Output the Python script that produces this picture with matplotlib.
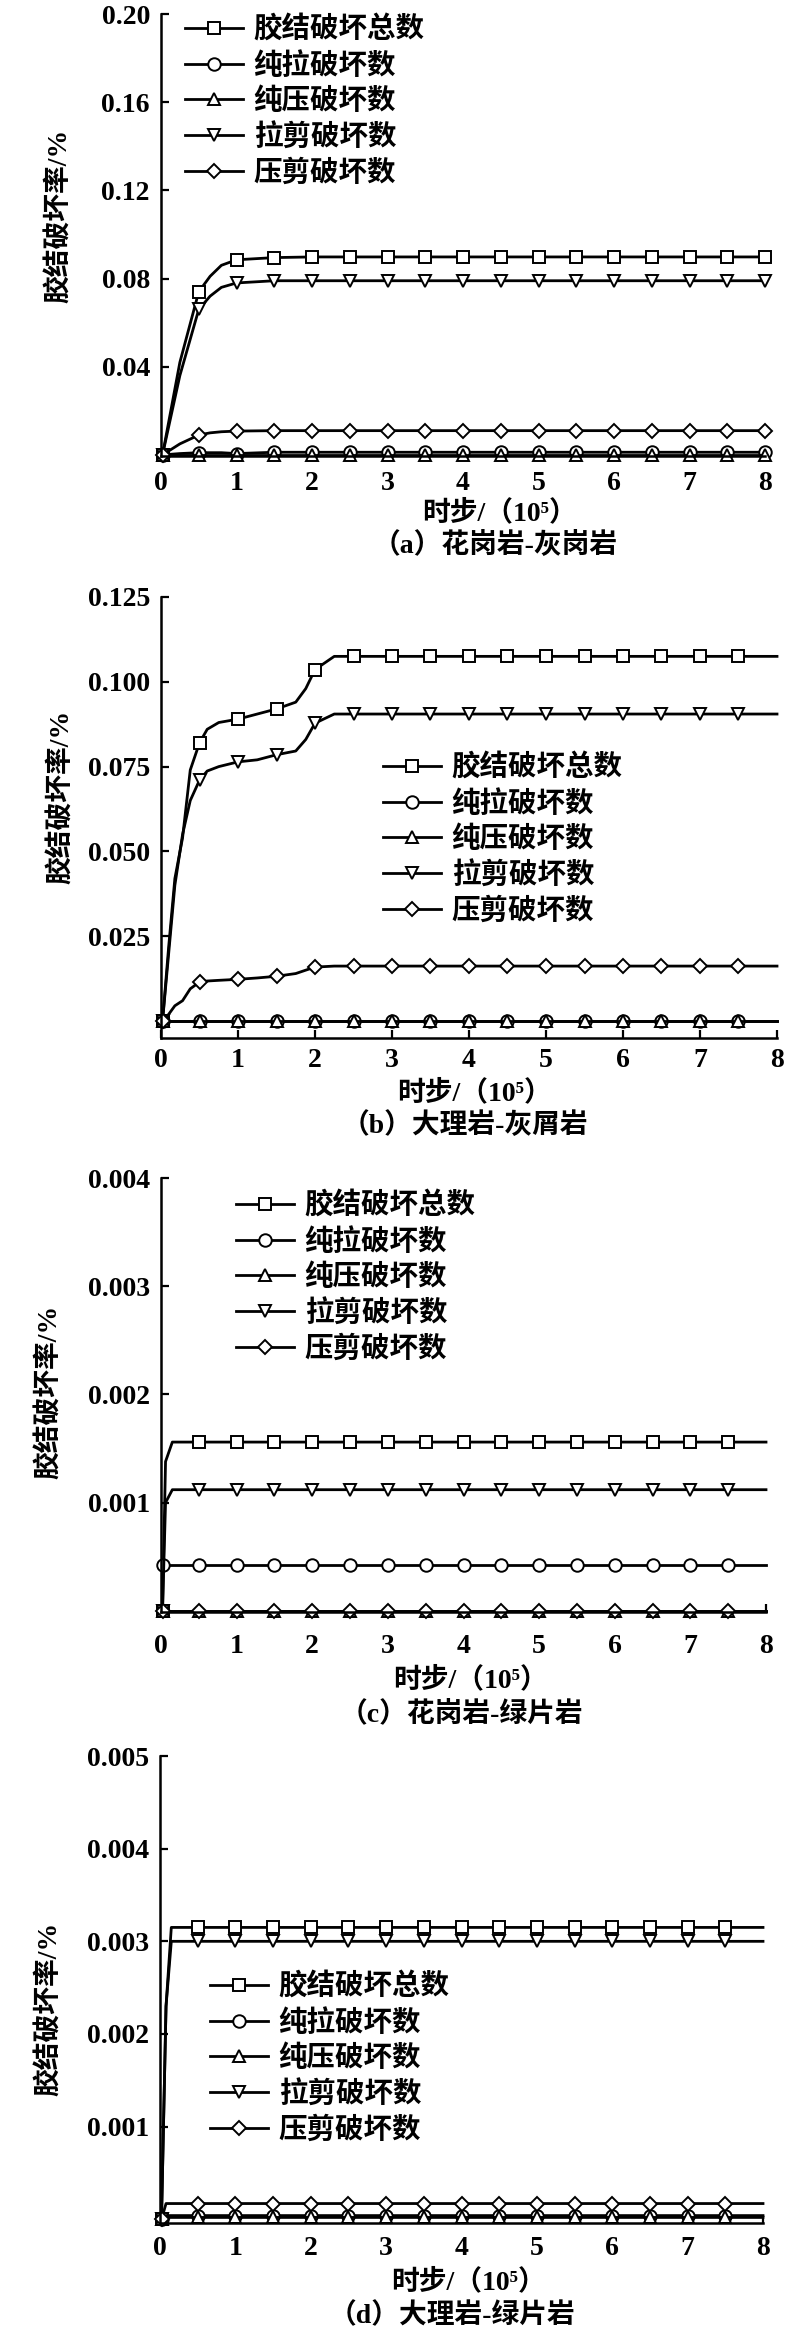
import numpy as np
import matplotlib
matplotlib.use("Agg")
import matplotlib.pyplot as plt

plt.rcParams['font.family'] = ['Liberation Serif', 'Noto Sans CJK SC', 'DejaVu Sans']
plt.rcParams['font.weight'] = 'bold'
plt.rcParams['axes.labelweight'] = 'bold'
plt.rcParams['axes.unicode_minus'] = False

# ---------------- data ----------------
series_labels = ["胶结破坏总数", "纯拉破坏数", "纯压破坏数", "拉剪破坏数", "压剪破坏数"]
series_markers = ["s", "o", "^", "v", "D"]

x_ticks = [0, 1, 2, 3, 4, 5, 6, 7, 8]
ylabel_text = "胶结破坏率/%"
xlabel_text = "时步/（10⁵）"

# (a) 花岗岩-灰岗岩
cap_a = "（a）花岗岩-灰岗岩"
x_a = [0.02, 0.25, 0.5, 0.65, 0.8, 1.0, 1.5, 2.0, 2.5, 3.0, 3.5, 4.0, 4.5, 5.0, 5.5, 6.0, 6.5, 7.0, 7.5, 8.0]
total_a = [0, 0.042, 0.074, 0.081, 0.086, 0.0885, 0.0895, 0.0898, 0.0898, 0.0898, 0.0898, 0.0898, 0.0898,
           0.0898, 0.0898, 0.0898, 0.0898, 0.0898, 0.0898, 0.0898]
tension_a = [0, 0.0006, 0.0010, 0.0010, 0.0010, 0.0006, 0.0012, 0.0012, 0.0012, 0.0012, 0.0012, 0.0012, 0.0012,
             0.0012, 0.0012, 0.0012, 0.0012, 0.0012, 0.0012, 0.0012]
compress_a = [0, 0, 0, 0, 0, 0, 0, 0, 0, 0, 0, 0, 0, 0, 0, 0, 0, 0, 0, 0]
tshear_a = [0, 0.036, 0.066, 0.072, 0.076, 0.078, 0.079, 0.079, 0.079, 0.079, 0.079, 0.079, 0.079,
            0.079, 0.079, 0.079, 0.079, 0.079, 0.079, 0.079]
cshear_a = [0, 0.005, 0.009, 0.0100, 0.0105, 0.0108, 0.011, 0.011, 0.011, 0.011, 0.011, 0.011, 0.011,
            0.011, 0.011, 0.011, 0.011, 0.011, 0.011, 0.011]
marks_a = [0.02, 0.5, 1.0, 1.5, 2.0, 2.5, 3.0, 3.5, 4.0, 4.5, 5.0, 5.5, 6.0, 6.5, 7.0, 7.5, 8.0]
yticks_a = [0.04, 0.08, 0.12, 0.16, 0.20]
yticklabels_a = ["0.04", "0.08", "0.12", "0.16", "0.20"]

# (b) 大理岩-灰屑岩
cap_b = "（b）大理岩-灰屑岩"
x_b = [0.02, 0.1, 0.18, 0.28, 0.38, 0.5, 0.6, 0.75, 1.0, 1.25, 1.5, 1.75, 1.88, 2.0, 2.25, 2.5, 3.0, 3.5,
       4.0, 4.5, 5.0, 5.5, 6.0, 6.5, 7.0, 7.5, 8.0]
total_b = [0, 0.022, 0.042, 0.054, 0.074, 0.082, 0.086, 0.088, 0.089, 0.0905, 0.092, 0.094, 0.098, 0.1036,
           0.1075, 0.1075, 0.1075, 0.1075, 0.1075, 0.1075, 0.1075, 0.1075, 0.1075, 0.1075, 0.1075, 0.1075, 0.1075]
tension_b = [0] * 27
compress_b = [0] * 27
tshear_b = [0, 0.020, 0.040, 0.055, 0.065, 0.071, 0.0737, 0.075, 0.0764, 0.077, 0.0785, 0.0796, 0.083, 0.0878,
            0.0905, 0.0905, 0.0905, 0.0905, 0.0905, 0.0905, 0.0905, 0.0905, 0.0905, 0.0905, 0.0905, 0.0905, 0.0905]
cshear_b = [0, 0.002, 0.0045, 0.006, 0.0095, 0.0115, 0.0118, 0.012, 0.0123, 0.0127, 0.0132, 0.014, 0.015, 0.0159,
            0.0162, 0.0162, 0.0162, 0.0162, 0.0162, 0.0162, 0.0162, 0.0162, 0.0162, 0.0162, 0.0162, 0.0162, 0.0162]
marks_b = [0.02, 0.5, 1.0, 1.5, 2.0, 2.5, 3.0, 3.5, 4.0, 4.5, 5.0, 5.5, 6.0, 6.5, 7.0, 7.5]
yticks_b = [0.025, 0.050, 0.075, 0.100, 0.125]
yticklabels_b = ["0.025", "0.050", "0.075", "0.100", "0.125"]

# (c) 花岗岩-绿片岩
cap_c = "（c）花岗岩-绿片岩"
x_c = [0.02, 0.06, 0.15, 0.5, 1.0, 1.5, 2.0, 2.5, 3.0, 3.5, 4.0, 4.5, 5.0, 5.5, 6.0, 6.5, 7.0, 7.5, 8.0]
total_c = [0, 0.00138, 0.00156, 0.00156, 0.00156, 0.00156, 0.00156, 0.00156, 0.00156, 0.00156, 0.00156,
           0.00156, 0.00156, 0.00156, 0.00156, 0.00156, 0.00156, 0.00156, 0.00156]
tension_c = [0.00042, 0.00042, 0.00042, 0.00042, 0.00042, 0.00042, 0.00042, 0.00042, 0.00042, 0.00042,
             0.00042, 0.00042, 0.00042, 0.00042, 0.00042, 0.00042, 0.00042, 0.00042, 0.00042]
compress_c = [0] * 19
tshear_c = [0, 0.00100, 0.00112, 0.00112, 0.00112, 0.00112, 0.00112, 0.00112, 0.00112, 0.00112, 0.00112,
            0.00112, 0.00112, 0.00112, 0.00112, 0.00112, 0.00112, 0.00112, 0.00112]
cshear_c = [0] * 19
marks_c = [0.02, 0.5, 1.0, 1.5, 2.0, 2.5, 3.0, 3.5, 4.0, 4.5, 5.0, 5.5, 6.0, 6.5, 7.0, 7.5]
yticks_c = [0.001, 0.002, 0.003, 0.004]
yticklabels_c = ["0.001", "0.002", "0.003", "0.004"]

# (d) 大理岩-绿片岩
cap_d = "（d）大理岩-绿片岩"
x_d = [0.02, 0.08, 0.15, 0.5, 1.0, 1.5, 2.0, 2.5, 3.0, 3.5, 4.0, 4.5, 5.0, 5.5, 6.0, 6.5, 7.0, 7.5, 8.0]
total_d = [0, 0.0023, 0.00315, 0.00315, 0.00315, 0.00315, 0.00315, 0.00315, 0.00315, 0.00315, 0.00315,
           0.00315, 0.00315, 0.00315, 0.00315, 0.00315, 0.00315, 0.00315, 0.00315]
tension_d = [0, 0.00004, 0.00004, 0.00004, 0.00004, 0.00004, 0.00004, 0.00004, 0.00004, 0.00004, 0.00004,
             0.00004, 0.00004, 0.00004, 0.00004, 0.00004, 0.00004, 0.00004, 0.00004]
compress_d = [0, 0.00002, 0.00002, 0.00002, 0.00002, 0.00002, 0.00002, 0.00002, 0.00002, 0.00002, 0.00002,
              0.00002, 0.00002, 0.00002, 0.00002, 0.00002, 0.00002, 0.00002, 0.00002]
tshear_d = [0, 0.0023, 0.0030, 0.0030, 0.0030, 0.0030, 0.0030, 0.0030, 0.0030, 0.0030, 0.0030,
            0.0030, 0.0030, 0.0030, 0.0030, 0.0030, 0.0030, 0.0030, 0.0030]
cshear_d = [0, 0.00017, 0.00017, 0.00017, 0.00017, 0.00017, 0.00017, 0.00017, 0.00017, 0.00017, 0.00017,
            0.00017, 0.00017, 0.00017, 0.00017, 0.00017, 0.00017, 0.00017, 0.00017]
marks_d = [0.02, 0.5, 1.0, 1.5, 2.0, 2.5, 3.0, 3.5, 4.0, 4.5, 5.0, 5.5, 6.0, 6.5, 7.0, 7.5]
yticks_d = [0.001, 0.002, 0.003, 0.004, 0.005]
yticklabels_d = ["0.001", "0.002", "0.003", "0.004", "0.005"]

# ---------------- layout (pixels) ----------------
W, H = 809, 2343
fig = plt.figure(figsize=(W / 100, H / 100), dpi=100)

FS = 20
LFS = 20.5
panels = [
    dict(x=x_a, ys=[total_a, tension_a, compress_a, tshear_a, cshear_a], marks=marks_a,
         box=(161, 14, 765, 456), ylim=(-0.0005, 0.2), yt=yticks_a, ytl=yticklabels_a,
         leg=(185, 16), xpad=11, xlab=(500, 513), cap=(495, 546), ylab=(60, 216), caption=cap_a),
    dict(x=x_b, ys=[total_b, tension_b, compress_b, tshear_b, cshear_b], marks=marks_b,
         box=(161, 597, 777, 1038), ylim=(-0.005, 0.125), yt=yticks_b, ytl=yticklabels_b,
         leg=(383, 754), xpad=7, xlab=(475, 1093), cap=(465, 1126), ylab=(62, 797), caption=cap_b),
    dict(x=x_c, ys=[total_c, tension_c, compress_c, tshear_c, cshear_c], marks=marks_c,
         box=(161, 1178, 766, 1612), ylim=(-0.00001, 0.004), yt=yticks_c, ytl=yticklabels_c,
         leg=(236, 1192), xpad=16, xlab=(470, 1680), cap=(461, 1714), ylab=(50, 1392), caption=cap_c),
    dict(x=x_d, ys=[total_d, tension_d, compress_d, tshear_d, cshear_d], marks=marks_d,
         box=(160, 1756, 763, 2223), ylim=(-0.00004, 0.005), yt=yticks_d, ytl=yticklabels_d,
         leg=(210, 1973), xpad=9.5, xlab=(468, 2282), cap=(452, 2316), ylab=(50, 2009), caption=cap_d),
]

for p in panels:
    l, t, r, b = p["box"]
    ax = fig.add_axes([l / W, 1 - b / H, (r - l) / W, (b - t) / H])
    xs = np.array(p["x"])
    mark_set = np.round(np.array(p["marks"]), 3)
    mask = np.isin(np.round(xs, 3), mark_set)
    for ys, lab, mk in zip(p["ys"], series_labels, series_markers):
        ms = 9 if mk in ("o", "^", "v") else (8.5 if mk == "s" else 7.5)
        ax.plot(xs, ys, color="black", lw=2.0, marker=mk, markevery=list(mask), ms=ms,
                mfc="white", mec="black", mew=1.4, label=lab, clip_on=False)
    ax.set_xlim(0, 8)
    ax.set_ylim(*p["ylim"])
    ax.set_xticks(x_ticks)
    ax.set_xticklabels([str(v) for v in x_ticks])
    ax.set_yticks(p["yt"])
    ax.set_yticklabels(p["ytl"])
    for s in ("top", "right"):
        ax.spines[s].set_visible(False)
    for s in ("left", "bottom"):
        ax.spines[s].set_linewidth(1.8)
    ax.tick_params(axis="both", direction="in", length=6, width=1.6, labelsize=20)
    ax.tick_params(axis="y", pad=8)
    ax.tick_params(axis="x", pad=p["xpad"])
    ax.set_xlabel(xlabel_text, fontsize=FS, va="center", ha="center")
    ax.xaxis.set_label_coords(p["xlab"][0] / W, 1 - p["xlab"][1] / H, transform=fig.transFigure)
    ax.set_ylabel(ylabel_text, fontsize=FS, va="center", ha="center")
    ax.yaxis.set_label_coords(p["ylab"][0] / W, 1 - p["ylab"][1] / H, transform=fig.transFigure)
    fig.text(p["cap"][0] / W, 1 - p["cap"][1] / H, p["caption"], fontsize=FS, ha="center", va="center")
    ax.legend(loc="upper left", bbox_to_anchor=(p["leg"][0] / W, 1 - p["leg"][1] / H),
              bbox_transform=fig.transFigure, frameon=False, fontsize=LFS, borderpad=0,
              borderaxespad=0, handlelength=2.05, handletextpad=0.36, labelspacing=0.28)

fig.savefig("out.png", dpi=100)
